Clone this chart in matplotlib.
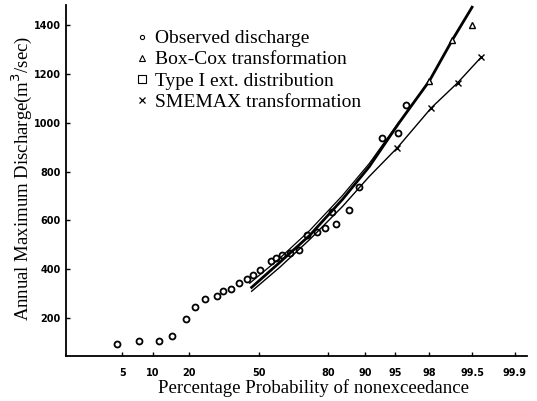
import math
import numpy as np
import matplotlib
matplotlib.use("Agg")
import matplotlib.pyplot as plt
from matplotlib.lines import Line2D
from matplotlib.ticker import NullLocator

# percentage probability of nonexceedance / discharge (m3/sec)
obs_p = [4.35, 7.4, 11.4, 14.7, 18.9, 22.0, 25.8, 30.6, 33.2, 36.8, 40.5, 44.2,
         47.1, 50.5, 55.8, 58.1, 60.9, 64.6, 68.5, 72.2, 75.8, 78.7, 81.1, 82.6,
         86.3, 88.8, 93.2, 95.4, 96.2]
obs_q = [94, 106, 106, 126, 196, 245, 277, 289, 310, 318, 343, 359, 375, 396,
         433, 445, 457, 465, 477, 539, 551, 567, 633, 584, 641, 735, 939, 959, 1073]

boxcox_p = [46.6, 60.0, 73.1, 84.4, 90.9, 95.5, 98.03, 99.03, 99.5]
boxcox_q = [326, 428, 539, 686, 820, 1000, 1171, 1339, 1473]
boxcox_mk_p = [98.03, 99.03, 99.5]
boxcox_mk_q = [1171, 1339, 1400]

type1_p = [45.7, 60.0, 73.1, 84.4, 90.9, 95.5]
type1_q = [343, 445, 559, 702, 833, 1004]

smemax_p = [46.6, 60.0, 73.1, 84.4, 90.9, 95.3, 98.14, 99.18, 99.64]
smemax_q = [310, 408, 522, 657, 780, 898, 1061, 1163, 1269]
smemax_mk_p = [95.3, 98.14, 99.18, 99.64]
smemax_mk_q = [898, 1061, 1163, 1269]

xticks = [5, 10, 20, 50, 80, 90, 95, 98, 99.5, 99.9]
xticklabels = ["5", "10", "20", "50", "80", "90", "95", "98", "99.5", "99.9"]
yticks = [200, 400, 600, 800, 1000, 1200, 1400]


def _cdf_one(z):
    return 50.0 * (1.0 + math.erf(z / math.sqrt(2.0)))


def _probit_one(p):
    q = min(max(p, 1e-7), 100 - 1e-7)
    lo, hi = -10.0, 10.0
    for _ in range(60):
        mid = 0.5 * (lo + hi)
        if _cdf_one(mid) < q:
            lo = mid
        else:
            hi = mid
    return 0.5 * (lo + hi)


def probit(p):
    return np.vectorize(_probit_one, otypes=[float])(np.asarray(p, dtype=float))


def cdf(z):
    return np.vectorize(_cdf_one, otypes=[float])(np.asarray(z, dtype=float))


serif = "Liberation Serif"

fig = plt.figure(figsize=(5.37, 4.01), dpi=100)
ax = fig.add_axes([66 / 537, 1 - 356 / 401, 461 / 537, 351 / 401])
ax.set_xscale("function", functions=(probit, cdf))

ax.plot(obs_p, obs_q, "o", ms=4.3, mfc="white", mec="black", mew=1.3)
ax.plot(boxcox_p, boxcox_q, "-", color="black", lw=2.0)
ax.plot(type1_p, type1_q, "-", color="black", lw=0.9)
ax.plot(smemax_p, smemax_q, "-", color="black", lw=1.0)
ax.plot(boxcox_mk_p, boxcox_mk_q, "^", ms=4, mfc="white", mec="black", mew=1.0)
ax.plot(smemax_mk_p, smemax_mk_q, "x", ms=4, color="black", mew=1.0)

ax.set_xlim(1.0, 99.94)
ax.set_ylim(45, 1482)

for s in ["top", "right"]:
    ax.spines[s].set_visible(False)
for s in ["left", "bottom"]:
    ax.spines[s].set_linewidth(1.3)

ax.set_xticks(xticks)
ax.set_xticklabels(xticklabels)
ax.xaxis.set_minor_locator(NullLocator())
ax.set_yticks(yticks)
ax.tick_params(axis="both", direction="in", length=3, width=1.0)
ax.tick_params(axis="x", pad=9)
ax.tick_params(axis="y", pad=4)
for lab in ax.get_xticklabels() + ax.get_yticklabels():
    lab.set_fontfamily("DejaVu Sans")
    lab.set_fontweight("bold")
    lab.set_fontsize(7)

fig.text(313 / 537, 1 - 388 / 401, "Percentage Probability of nonexceedance",
         ha="center", va="center", fontsize=13.5, family=serif)
fig.text(22 / 537, 1 - 178 / 401, "Annual Maximum Discharge(m$^3$/sec)",
         ha="center", va="center", rotation=90, fontsize=13.5, family=serif)

handles = [
    Line2D([], [], ls="", marker="o", ms=3, mfc="white", mec="black", mew=0.8),
    Line2D([], [], ls="", marker="^", ms=5, mfc="white", mec="black", mew=0.8),
    Line2D([], [], ls="", marker="s", ms=6, mfc="white", mec="black", mew=0.8),
    Line2D([], [], ls="", marker="x", ms=5, color="black", mew=0.9),
]
labels = ["Observed discharge", "Box-Cox transformation",
          "Type I ext. distribution", "SMEMAX transformation"]
ax.legend(handles, labels, loc="upper left", bbox_to_anchor=(124 / 537, 1 - 20 / 401),
          bbox_transform=fig.transFigure, frameon=False, borderpad=0,
          handlelength=0.8, handletextpad=0.3, labelspacing=0.18,
          prop={"family": serif, "size": 14})

fig.savefig("out.png", dpi=100)
